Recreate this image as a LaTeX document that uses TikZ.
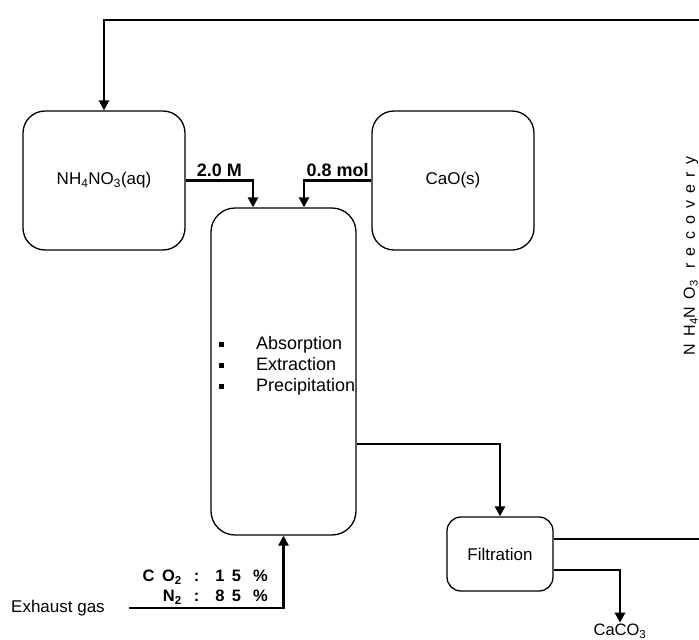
\documentclass[tikz,border=0pt]{standalone}
\usepackage{fontspec}
\setmainfont{Liberation Sans}
\newfontfamily\gasfont[LetterSpace=45]{Liberation Sans}
\newfontfamily\recovfont[LetterSpace=45]{Liberation Sans}
\usetikzlibrary{arrows.meta, positioning, calc}

\newcommand{\sqbullet}{\raisebox{2pt}{\rule{5pt}{5pt}}}

\begin{document}
\begin{tikzpicture}[x=1pt, y=-1pt,
  unitbox/.style={draw, line width=1.3pt, rounded corners=22pt, align=center, inner sep=0pt, font=\fontsize{17}{20}\selectfont},
  flow/.style={line width=2.6pt, -{Triangle[length=10pt, width=10pt]}},
  pipe/.style={line width=2.6pt},
  flowlabel/.style={font=\fontsize{18}{21}\selectfont\bfseries, inner sep=3pt}
]
\useasboundingbox (0,0) rectangle (699,640);

% units
\node[unitbox, minimum width=162pt, minimum height=139pt] (nh4) at (104,180.5) {NH\textsubscript{4}NO\textsubscript{3}(aq)};
\node[unitbox, minimum width=162pt, minimum height=139pt] (cao) at (453,180.5) {CaO(s)};
\node[unitbox, minimum width=145pt, minimum height=327pt, rounded corners=24pt] (reactor) at (283.5,371.5) {};
\node[unitbox, minimum width=106pt, minimum height=74pt, rounded corners=14pt] (filt) at (500,554) {Filtration};

\node[anchor=west, inner sep=0pt, font=\fontsize{18}{21}\selectfont] (steps) at (219,366) {%
  \begin{tabular}{@{}l@{\hspace{32pt}}l@{}}
  \sqbullet & Absorption\\
  \sqbullet & Extraction\\
  \sqbullet & Precipitation
  \end{tabular}};

% streams
\coordinate (rtop) at (699,20);
\coordinate (rfilt) at (699,539);
\coordinate (nh4in) at ($(reactor.north)+(-30.5,0)$);
\coordinate (caoin) at ($(reactor.north)+(20.5,0)$);

\node[anchor=west, inner sep=0pt, font=\fontsize{17}{20}\selectfont] (exhaust) at (11,608) {Exhaust gas};
\node[anchor=east, inner sep=0pt, align=right, font=\fontsize{16.5}{20}\gasfont\bfseries] (gas) at (268,587)
  {CO\textsubscript{2} : 15\hspace{12pt}\%\\N\textsubscript{2} : 85\hspace{12pt}\%};
\node[inner sep=1pt, font=\fontsize{16.5}{20}\selectfont] (caco) at (620,631) {CaCO\textsubscript{3}};
\node[rotate=90, inner sep=0pt, font=\fontsize{16}{20}\recovfont] (recov) at (691,256) {NH\textsubscript{4}NO\textsubscript{3} recovery};

\draw[flow] (rtop) -- (nh4.north |- rtop) -- (nh4.north);
\draw[flow] (nh4.east) -- node[flowlabel, above] {2.0 M} (nh4.east -| nh4in) -- (nh4in);
\draw[flow] (cao.west) -- node[flowlabel, above] {0.8 mol} (cao.west -| caoin) -- (caoin);
\draw[flow] ($(reactor.east)+(0,72.5)$) -| (filt.north);
\draw[flow] ([xshift=24pt]exhaust.east) -| (reactor.south);
\draw[pipe] (filt.east |- rfilt) -- (rfilt);
\draw[flow] ($(filt.east)+(0,16)$) -| (caco.north);
\end{tikzpicture}
\end{document}
